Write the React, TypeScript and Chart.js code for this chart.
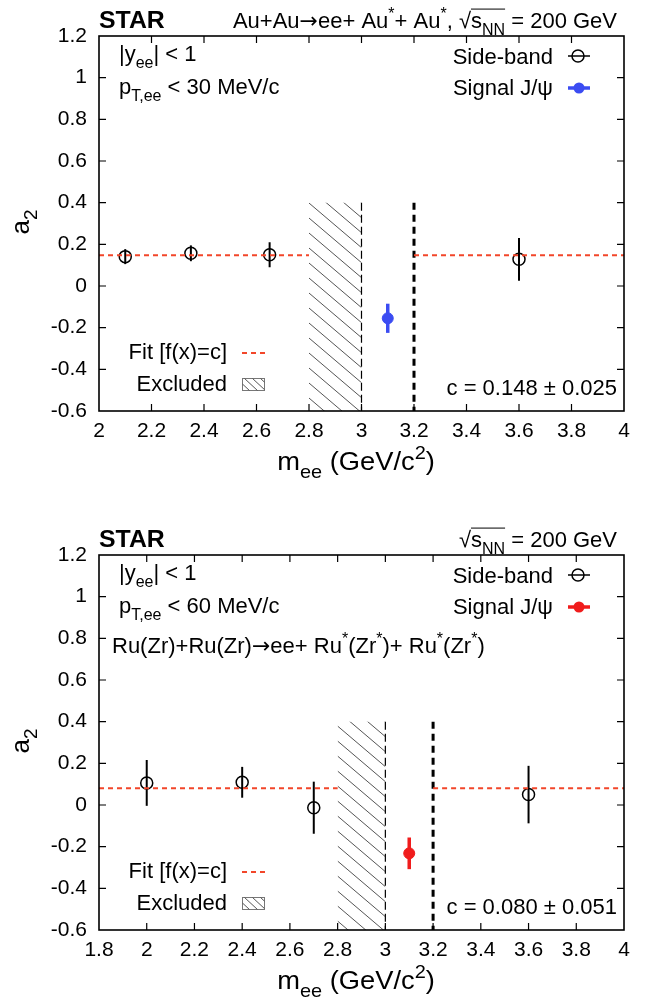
import React, { useEffect, useRef } from 'react';
import { Chart, registerables } from 'chart.js';

Chart.register(...registerables);

const FONT = '"Liberation Sans", Arial, Helvetica, sans-serif';
const ARROW_FONT = '"DejaVu Sans", sans-serif';

// ---------- shared axis data ----------
const yTicks = [-0.6, -0.4, -0.2, 0, 0.2, 0.4, 0.6, 0.8, 1, 1.2];
const yTickLabels = ['-0.6', '-0.4', '-0.2', '0', '0.2', '0.4', '0.6', '0.8', '1', '1.2'];
const excludedRange = [2.8, 3.0];
const excludedTop = 0.4;
const boundaryLinesX = [3.0, 3.2];
const boundaryTop = 0.4;

// ---------- Au+Au panel ----------
const auXTicks = [2, 2.2, 2.4, 2.6, 2.8, 3, 3.2, 3.4, 3.6, 3.8, 4];
const auXTickLabels = ['2', '2.2', '2.4', '2.6', '2.8', '3', '3.2', '3.4', '3.6', '3.8', '4'];
const auSideX = [2.1, 2.35, 2.65, 3.6];
const auSideY = [0.141, 0.157, 0.15, 0.128];
const auSideErr = [0.036, 0.038, 0.06, 0.103];
const auSignalX = [3.1];
const auSignalY = [-0.155];
const auSignalErr = [0.07];
const auFitC = 0.148;
const auFitErr = 0.025;
const auFitRanges = [[2, 2.8], [3.2, 4]];

// ---------- Ru/Zr panel ----------
const ruXTicks = [1.8, 2, 2.2, 2.4, 2.6, 2.8, 3, 3.2, 3.4, 3.6, 3.8, 4];
const ruXTickLabels = ['1.8', '2', '2.2', '2.4', '2.6', '2.8', '3', '3.2', '3.4', '3.6', '3.8', '4'];
const ruSideX = [2.0, 2.4, 2.7, 3.6];
const ruSideY = [0.106, 0.109, -0.013, 0.05];
const ruSideErr = [0.11, 0.074, 0.125, 0.138];
const ruSignalX = [3.1];
const ruSignalY = [-0.232];
const ruSignalErr = [0.076];
const ruFitC = 0.08;
const ruFitErr = 0.051;
const ruFitRanges = [[1.8, 2.8], [3.2, 4]];

const FIT_COLOR = '#f2462a';
const BLUE = '#3b4cf2';
const RED = '#f01c1c';

type Part = { t: string; s?: 'sub' | 'sup'; ol?: boolean; f?: string };

function drawRich(
  ctx: CanvasRenderingContext2D,
  parts: Part[],
  x: number,
  y: number,
  size: number,
  align: 'left' | 'right' | 'center' = 'left',
  bold = false,
  sx = 1
) {
  const fontFor = (p: Part) =>
    `${bold ? 'bold ' : ''}${p.s ? Math.round(size * 0.72) : size}px ${p.f || FONT}`;
  ctx.save();
  ctx.textBaseline = 'alphabetic';
  ctx.textAlign = 'left';
  let total = 0;
  const ws = parts.map((p) => {
    ctx.font = fontFor(p);
    const w = ctx.measureText(p.t).width;
    total += w;
    return w;
  });
  total *= sx;
  const x0 = align === 'left' ? x : align === 'right' ? x - total : x - total / 2;
  ctx.translate(x0, y);
  ctx.scale(sx, 1);
  ctx.fillStyle = '#000';
  ctx.strokeStyle = '#000';
  let cx = 0;
  let olStart: number | null = null;
  parts.forEach((p, i) => {
    ctx.font = fontFor(p);
    const dy = p.s === 'sub' ? size * 0.3 : p.s === 'sup' ? -size * 0.42 : 0;
    ctx.fillText(p.t, cx, dy);
    if (p.ol && olStart === null) olStart = cx;
    cx += ws[i];
    if (p.ol && (i === parts.length - 1 || !parts[i + 1].ol) && olStart !== null) {
      ctx.lineWidth = 1;
      ctx.beginPath();
      ctx.moveTo(olStart, -size * 0.86);
      ctx.lineTo(cx, -size * 0.86);
      ctx.stroke();
      olStart = null;
    }
  });
  ctx.restore();
}

interface PanelCfg {
  height: number;
  xMin: number;
  xMax: number;
  xTicks: number[];
  xTickLabels: string[];
  sideX: number[];
  sideY: number[];
  sideErr: number[];
  sigX: number[];
  sigY: number[];
  sigErr: number[];
  sigColor: string;
  fitC: number;
  fitErr: number;
  fitRanges: number[][];
  header: Part[];
  ptLabel: string;
  extraLine?: Part[];
}

const PLOT_LEFT = 99;
const PLOT_RIGHT = 624;
const PLOT_TOP = 36;
const PLOT_BOTTOM = 411;

function makePlugin(cfg: PanelCfg) {
  return {
    id: 'panelDecor',
    beforeDatasetsDraw(chart: any) {
      const { ctx, chartArea: a } = chart;
      const x = chart.scales.x;
      const y = chart.scales.y;
      // hatched excluded region
      const hx0 = x.getPixelForValue(excludedRange[0]);
      const hx1 = x.getPixelForValue(excludedRange[1]);
      const hy0 = y.getPixelForValue(excludedTop);
      const hy1 = a.bottom;
      ctx.save();
      ctx.beginPath();
      ctx.rect(hx0, hy0, hx1 - hx0, hy1 - hy0);
      ctx.clip();
      ctx.strokeStyle = '#555';
      ctx.lineWidth = 1;
      const w = hx1 - hx0;
      const slope = 0.85;
      const step = 15;
      for (let k = -w * slope; k < hy1 - hy0 + step; k += step) {
        ctx.beginPath();
        ctx.moveTo(hx0, hy0 + k);
        ctx.lineTo(hx1, hy0 + k + w * slope);
        ctx.stroke();
      }
      ctx.restore();

      // error bars
      ctx.save();
      ctx.strokeStyle = '#000';
      ctx.lineWidth = 2;
      cfg.sideX.forEach((vx, i) => {
        const px = x.getPixelForValue(vx);
        ctx.beginPath();
        ctx.moveTo(px, y.getPixelForValue(cfg.sideY[i] + cfg.sideErr[i]));
        ctx.lineTo(px, y.getPixelForValue(cfg.sideY[i] - cfg.sideErr[i]));
        ctx.stroke();
      });
      ctx.strokeStyle = cfg.sigColor;
      ctx.lineWidth = 3.5;
      cfg.sigX.forEach((vx, i) => {
        const px = x.getPixelForValue(vx);
        ctx.beginPath();
        ctx.moveTo(px, y.getPixelForValue(cfg.sigY[i] + cfg.sigErr[i]));
        ctx.lineTo(px, y.getPixelForValue(cfg.sigY[i] - cfg.sigErr[i]));
        ctx.stroke();
      });
      ctx.restore();
    },
    afterDraw(chart: any) {
      const { ctx, chartArea: a } = chart;
      const x = chart.scales.x;
      const y = chart.scales.y;
      ctx.save();
      // frame
      ctx.strokeStyle = '#000';
      ctx.lineWidth = 1.6;
      ctx.strokeRect(a.left, a.top, a.right - a.left, a.bottom - a.top);
      // inward ticks
      ctx.lineWidth = 1.2;
      const tl = 7;
      cfg.xTicks.forEach((v) => {
        const px = x.getPixelForValue(v);
        if (Math.abs(px - a.left) < 1 || Math.abs(px - a.right) < 1) return;
        ctx.beginPath();
        ctx.moveTo(px, a.bottom);
        ctx.lineTo(px, a.bottom - tl);
        ctx.moveTo(px, a.top);
        ctx.lineTo(px, a.top + tl);
        ctx.stroke();
      });
      yTicks.forEach((v) => {
        const py = y.getPixelForValue(v);
        if (Math.abs(py - a.top) < 1 || Math.abs(py - a.bottom) < 1) return;
        ctx.beginPath();
        ctx.moveTo(a.left, py);
        ctx.lineTo(a.left + tl, py);
        ctx.moveTo(a.right, py);
        ctx.lineTo(a.right - tl, py);
        ctx.stroke();
      });
      ctx.restore();

      // titles
      drawRich(ctx, [{ t: 'STAR' }], 99, 28, 23, 'left', true, 1.08);
      drawRich(ctx, cfg.header, 617, 28, 22, 'right');

      // axis titles
      drawRich(
        ctx,
        [{ t: 'm' }, { t: 'ee', s: 'sub' }, { t: ' (GeV/c' }, { t: '2', s: 'sup' }, { t: ')' }],
        356,
        470,
        26,
        'center',
        false,
        1.05
      );
      ctx.save();
      ctx.translate(29, 222);
      ctx.rotate(-Math.PI / 2);
      drawRich(ctx, [{ t: 'a' }, { t: '2', s: 'sub' }], 0, 0, 26, 'center');
      ctx.restore();

      // in-plot labels
      drawRich(ctx, [{ t: '|y' }, { t: 'ee', s: 'sub' }, { t: '| < 1' }], 119, 61, 22);
      drawRich(ctx, [{ t: 'p' }, { t: 'T,ee', s: 'sub' }, { t: cfg.ptLabel }], 119, 94, 22);
      if (cfg.extraLine) drawRich(ctx, cfg.extraLine, 112, 134, 22);

      // right legend
      drawRich(ctx, [{ t: 'Side-band' }], 553, 64, 22, 'right');
      drawRich(ctx, [{ t: 'Signal J/ψ' }], 553, 95, 22, 'right');
      ctx.save();
      ctx.strokeStyle = '#000';
      ctx.lineWidth = 1.5;
      ctx.beginPath();
      ctx.moveTo(568, 56);
      ctx.lineTo(590, 56);
      ctx.stroke();
      ctx.beginPath();
      ctx.arc(578, 56, 6, 0, Math.PI * 2);
      ctx.stroke();
      ctx.strokeStyle = cfg.sigColor;
      ctx.fillStyle = cfg.sigColor;
      ctx.lineWidth = 3.5;
      ctx.beginPath();
      ctx.moveTo(568, 88);
      ctx.lineTo(590, 88);
      ctx.stroke();
      ctx.beginPath();
      ctx.arc(579, 88, 5.5, 0, Math.PI * 2);
      ctx.fill();
      ctx.restore();

      // bottom-left legend
      drawRich(ctx, [{ t: 'Fit [f(x)=c]' }], 227, 359, 22, 'right');
      drawRich(ctx, [{ t: 'Excluded' }], 227, 391, 22, 'right');
      ctx.save();
      ctx.strokeStyle = FIT_COLOR;
      ctx.lineWidth = 2;
      ctx.setLineDash([5, 4]);
      ctx.beginPath();
      ctx.moveTo(242, 353);
      ctx.lineTo(266, 353);
      ctx.stroke();
      ctx.setLineDash([]);
      ctx.strokeStyle = '#777';
      ctx.lineWidth = 1;
      ctx.strokeRect(242.5, 378.5, 22, 12);
      ctx.beginPath();
      ctx.rect(242.5, 378.5, 22, 12);
      ctx.clip();
      ctx.strokeStyle = '#555';
      for (let k = -14; k < 30; k += 8) {
        ctx.beginPath();
        ctx.moveTo(242 + k, 378);
        ctx.lineTo(242 + k + 14, 391);
        ctx.stroke();
      }
      ctx.restore();

      drawRich(
        ctx,
        [{ t: `c = ${cfg.fitC.toFixed(3)} ± ${cfg.fitErr.toFixed(3)}` }],
        617,
        395,
        22,
        'right'
      );
    },
  };
}

function Panel({ cfg }: { cfg: PanelCfg }) {
  const ref = useRef<HTMLCanvasElement | null>(null);
  useEffect(() => {
    if (!ref.current) return;
    const H = cfg.height;
    const chart = new Chart(ref.current, {
      type: 'scatter',
      data: {
        datasets: [
          ...cfg.fitRanges.map((r) => ({
            type: 'line' as const,
            label: 'Fit [f(x)=c]',
            data: [
              { x: r[0], y: cfg.fitC },
              { x: r[1], y: cfg.fitC },
            ],
            borderColor: FIT_COLOR,
            borderWidth: 2,
            borderDash: [5, 4],
            pointRadius: 0,
            fill: false,
          })),
          ...boundaryLinesX.map((bx, i) => ({
            type: 'line' as const,
            label: 'boundary',
            data: [
              { x: bx, y: boundaryTop },
              { x: bx, y: yTicks[0] },
            ],
            borderColor: '#000',
            borderWidth: i === 0 ? 1.2 : 3,
            borderDash: i === 0 ? [8, 4] : [7, 5],
            pointRadius: 0,
            fill: false,
          })),
          {
            label: 'Side-band',
            data: cfg.sideX.map((vx, i) => ({ x: vx, y: cfg.sideY[i] })),
            pointRadius: 6,
            pointBorderWidth: 1.5,
            pointBorderColor: '#000',
            pointBackgroundColor: 'rgba(0,0,0,0)',
            showLine: false,
          },
          {
            label: 'Signal J/ψ',
            data: cfg.sigX.map((vx, i) => ({ x: vx, y: cfg.sigY[i] })),
            pointRadius: 5.5,
            pointBorderWidth: 1,
            pointBorderColor: cfg.sigColor,
            pointBackgroundColor: cfg.sigColor,
            showLine: false,
          },
        ],
      },
      options: {
        animation: false,
        responsive: false,
        devicePixelRatio: 1,
        layout: { padding: { left: 0, right: 656 - PLOT_RIGHT, top: PLOT_TOP, bottom: 0 } },
        plugins: {
          legend: { display: false },
          tooltip: { enabled: false },
          title: { display: false },
        },
        scales: {
          x: {
            type: 'linear',
            min: cfg.xMin,
            max: cfg.xMax,
            afterBuildTicks: (s: any) => {
              s.ticks = cfg.xTicks.map((v) => ({ value: v }));
            },
            afterFit: (s: any) => {
              s.height = H - PLOT_BOTTOM;
            },
            grid: { display: false, drawTicks: false },
            border: { display: false },
            ticks: {
              autoSkip: false,
              maxRotation: 0,
              padding: 8,
              color: '#000',
              font: { family: FONT, size: 21 },
              callback: (_v: any, i: number) => cfg.xTickLabels[i],
            },
          },
          y: {
            type: 'linear',
            min: yTicks[0],
            max: yTicks[yTicks.length - 1],
            afterBuildTicks: (s: any) => {
              s.ticks = yTicks.map((v) => ({ value: v }));
            },
            afterFit: (s: any) => {
              s.width = PLOT_LEFT;
            },
            grid: { display: false, drawTicks: false },
            border: { display: false },
            ticks: {
              autoSkip: false,
              padding: 12,
              color: '#000',
              font: { family: FONT, size: 21 },
              callback: (_v: any, i: number) => yTickLabels[i],
            },
          },
        },
      } as any,
      plugins: [makePlugin(cfg) as any],
    });
    return () => chart.destroy();
  }, [cfg]);
  return <canvas ref={ref} width={656} height={cfg.height} style={{ display: 'block' }} />;
}

const auCfg: PanelCfg = {
  height: 519,
  xMin: 2,
  xMax: 4,
  xTicks: auXTicks,
  xTickLabels: auXTickLabels,
  sideX: auSideX,
  sideY: auSideY,
  sideErr: auSideErr,
  sigX: auSignalX,
  sigY: auSignalY,
  sigErr: auSignalErr,
  sigColor: BLUE,
  fitC: auFitC,
  fitErr: auFitErr,
  fitRanges: auFitRanges,
  header: [
    { t: 'Au+Au' },
    { t: '→', f: ARROW_FONT },
    { t: 'ee+ Au' },
    { t: '*', s: 'sup' },
    { t: '+ Au' },
    { t: '*', s: 'sup' },
    { t: ', √' },
    { t: 's', ol: true },
    { t: 'NN', s: 'sub', ol: true },
    { t: ' = 200 GeV' },
  ],
  ptLabel: ' < 30 MeV/c',
};

const ruCfg: PanelCfg = {
  height: 482,
  xMin: 1.8,
  xMax: 4,
  xTicks: ruXTicks,
  xTickLabels: ruXTickLabels,
  sideX: ruSideX,
  sideY: ruSideY,
  sideErr: ruSideErr,
  sigX: ruSignalX,
  sigY: ruSignalY,
  sigErr: ruSignalErr,
  sigColor: RED,
  fitC: ruFitC,
  fitErr: ruFitErr,
  fitRanges: ruFitRanges,
  header: [{ t: '√' }, { t: 's', ol: true }, { t: 'NN', s: 'sub', ol: true }, { t: ' = 200 GeV' }],
  ptLabel: ' < 60 MeV/c',
  extraLine: [
    { t: 'Ru(Zr)+Ru(Zr)' },
    { t: '→', f: ARROW_FONT },
    { t: 'ee+ Ru' },
    { t: '*', s: 'sup' },
    { t: '(Zr' },
    { t: '*', s: 'sup' },
    { t: ')+ Ru' },
    { t: '*', s: 'sup' },
    { t: '(Zr' },
    { t: '*', s: 'sup' },
    { t: ')' },
  ],
};

export default function App() {
  return (
    <div style={{ position: 'absolute', left: 0, top: 0, width: 656, background: '#fff' }}>
      <Panel cfg={auCfg} />
      <Panel cfg={ruCfg} />
    </div>
  );
}
